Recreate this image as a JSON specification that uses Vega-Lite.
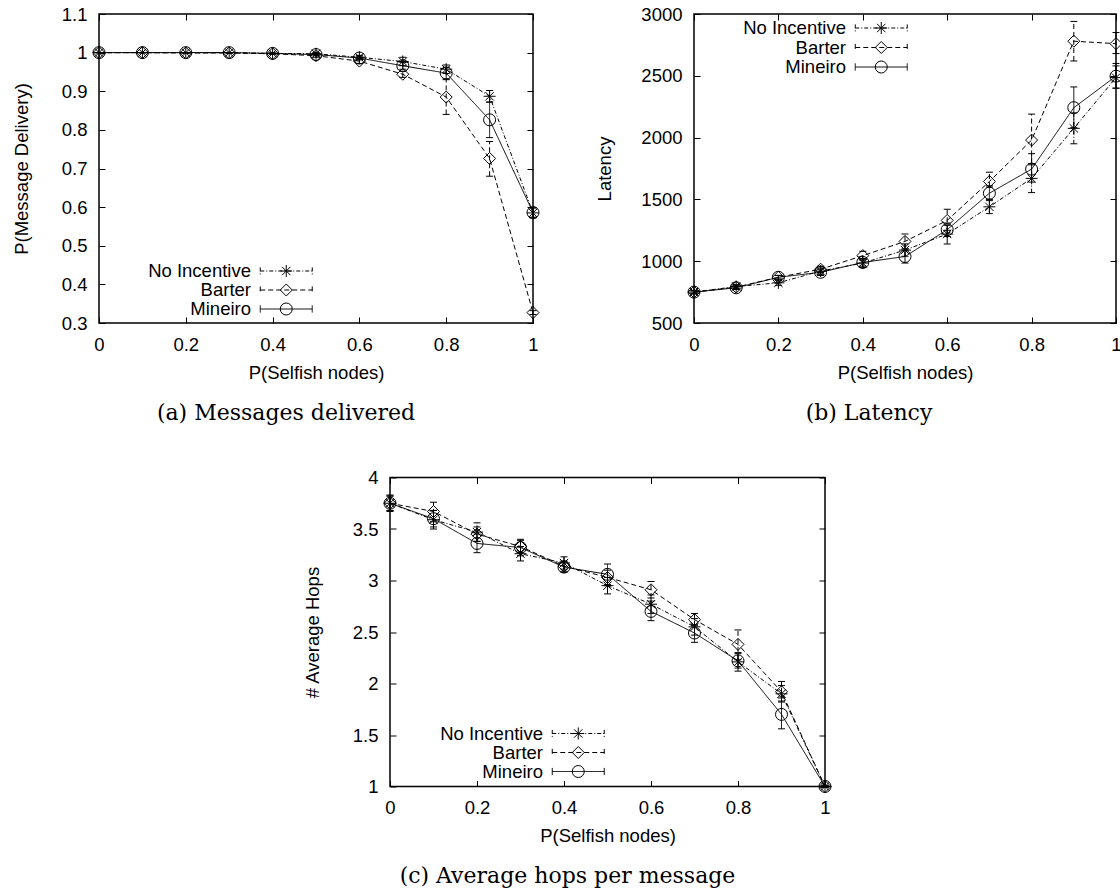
{
  "$schema": "https://vega.github.io/schema/vega-lite/v6.json",
  "background": "white",
  "padding": {"left": 11, "top": 4, "right": 0, "bottom": 0},
  "datasets": {
    "delivery": [
      {"x": 0, "series": "No Incentive", "y": 1.0, "lo": 1.0, "hi": 1.0},
      {"x": 0.1, "series": "No Incentive", "y": 1.0, "lo": 1.0, "hi": 1.0},
      {"x": 0.2, "series": "No Incentive", "y": 1.0, "lo": 1.0, "hi": 1.0},
      {"x": 0.3, "series": "No Incentive", "y": 1.0, "lo": 1.0, "hi": 1.0},
      {"x": 0.4, "series": "No Incentive", "y": 0.998, "lo": 0.997, "hi": 0.999},
      {"x": 0.5, "series": "No Incentive", "y": 0.997, "lo": 0.994, "hi": 1.0},
      {"x": 0.6, "series": "No Incentive", "y": 0.988, "lo": 0.983, "hi": 0.993},
      {"x": 0.7, "series": "No Incentive", "y": 0.977, "lo": 0.966, "hi": 0.988},
      {"x": 0.8, "series": "No Incentive", "y": 0.957, "lo": 0.946, "hi": 0.968},
      {"x": 0.9, "series": "No Incentive", "y": 0.887, "lo": 0.872, "hi": 0.902},
      {"x": 1.0, "series": "No Incentive", "y": 0.585, "lo": 0.572, "hi": 0.598},
      {"x": 0, "series": "Barter", "y": 1.0, "lo": 1.0, "hi": 1.0},
      {"x": 0.1, "series": "Barter", "y": 1.0, "lo": 1.0, "hi": 1.0},
      {"x": 0.2, "series": "Barter", "y": 0.999, "lo": 0.999, "hi": 0.999},
      {"x": 0.3, "series": "Barter", "y": 0.999, "lo": 0.999, "hi": 0.999},
      {"x": 0.4, "series": "Barter", "y": 0.997, "lo": 0.996, "hi": 0.998},
      {"x": 0.5, "series": "Barter", "y": 0.992, "lo": 0.988, "hi": 0.996},
      {"x": 0.6, "series": "Barter", "y": 0.978, "lo": 0.972, "hi": 0.984},
      {"x": 0.7, "series": "Barter", "y": 0.944, "lo": 0.936, "hi": 0.952},
      {"x": 0.8, "series": "Barter", "y": 0.885, "lo": 0.84, "hi": 0.93},
      {"x": 0.9, "series": "Barter", "y": 0.726, "lo": 0.68, "hi": 0.77},
      {"x": 1.0, "series": "Barter", "y": 0.327, "lo": 0.322, "hi": 0.332},
      {"x": 0, "series": "Mineiro", "y": 1.0, "lo": 1.0, "hi": 1.0},
      {"x": 0.1, "series": "Mineiro", "y": 1.0, "lo": 1.0, "hi": 1.0},
      {"x": 0.2, "series": "Mineiro", "y": 1.0, "lo": 1.0, "hi": 1.0},
      {"x": 0.3, "series": "Mineiro", "y": 1.0, "lo": 1.0, "hi": 1.0},
      {"x": 0.4, "series": "Mineiro", "y": 0.998, "lo": 0.997, "hi": 0.999},
      {"x": 0.5, "series": "Mineiro", "y": 0.995, "lo": 0.992, "hi": 0.998},
      {"x": 0.6, "series": "Mineiro", "y": 0.986, "lo": 0.981, "hi": 0.991},
      {"x": 0.7, "series": "Mineiro", "y": 0.966, "lo": 0.957, "hi": 0.975},
      {"x": 0.8, "series": "Mineiro", "y": 0.947, "lo": 0.932, "hi": 0.962},
      {"x": 0.9, "series": "Mineiro", "y": 0.826, "lo": 0.78, "hi": 0.872},
      {"x": 1.0, "series": "Mineiro", "y": 0.586, "lo": 0.574, "hi": 0.598}
    ],
    "latency": [
      {"x": 0, "series": "No Incentive", "y": 750, "lo": 735, "hi": 765},
      {"x": 0.1, "series": "No Incentive", "y": 795, "lo": 780, "hi": 810},
      {"x": 0.2, "series": "No Incentive", "y": 825, "lo": 805, "hi": 845},
      {"x": 0.3, "series": "No Incentive", "y": 920, "lo": 895, "hi": 945},
      {"x": 0.4, "series": "No Incentive", "y": 985, "lo": 950, "hi": 1020},
      {"x": 0.5, "series": "No Incentive", "y": 1090, "lo": 1040, "hi": 1140},
      {"x": 0.6, "series": "No Incentive", "y": 1220, "lo": 1140, "hi": 1290},
      {"x": 0.7, "series": "No Incentive", "y": 1440, "lo": 1385, "hi": 1500},
      {"x": 0.8, "series": "No Incentive", "y": 1670, "lo": 1555, "hi": 1780},
      {"x": 0.9, "series": "No Incentive", "y": 2075, "lo": 1950, "hi": 2200},
      {"x": 1.0, "series": "No Incentive", "y": 2485, "lo": 2400, "hi": 2580},
      {"x": 0, "series": "Barter", "y": 750, "lo": 740, "hi": 760},
      {"x": 0.1, "series": "Barter", "y": 790, "lo": 775, "hi": 805},
      {"x": 0.2, "series": "Barter", "y": 870, "lo": 855, "hi": 885},
      {"x": 0.3, "series": "Barter", "y": 935, "lo": 910, "hi": 960},
      {"x": 0.4, "series": "Barter", "y": 1045, "lo": 1010, "hi": 1080},
      {"x": 0.5, "series": "Barter", "y": 1160, "lo": 1100, "hi": 1220},
      {"x": 0.6, "series": "Barter", "y": 1330, "lo": 1250, "hi": 1420},
      {"x": 0.7, "series": "Barter", "y": 1645, "lo": 1600, "hi": 1720},
      {"x": 0.8, "series": "Barter", "y": 1980, "lo": 1790, "hi": 2190},
      {"x": 0.9, "series": "Barter", "y": 2780, "lo": 2620, "hi": 2940},
      {"x": 1.0, "series": "Barter", "y": 2760, "lo": 2680, "hi": 2850},
      {"x": 0, "series": "Mineiro", "y": 750, "lo": 738, "hi": 762},
      {"x": 0.1, "series": "Mineiro", "y": 785, "lo": 772, "hi": 798},
      {"x": 0.2, "series": "Mineiro", "y": 870, "lo": 855, "hi": 885},
      {"x": 0.3, "series": "Mineiro", "y": 910, "lo": 885, "hi": 935},
      {"x": 0.4, "series": "Mineiro", "y": 990, "lo": 960, "hi": 1020},
      {"x": 0.5, "series": "Mineiro", "y": 1038, "lo": 985, "hi": 1090},
      {"x": 0.6, "series": "Mineiro", "y": 1255, "lo": 1200, "hi": 1310},
      {"x": 0.7, "series": "Mineiro", "y": 1550, "lo": 1490, "hi": 1610},
      {"x": 0.8, "series": "Mineiro", "y": 1745, "lo": 1640, "hi": 1870},
      {"x": 0.9, "series": "Mineiro", "y": 2242, "lo": 2080, "hi": 2410},
      {"x": 1.0, "series": "Mineiro", "y": 2497, "lo": 2400, "hi": 2600}
    ],
    "hops": [
      {"x": 0, "series": "No Incentive", "y": 3.75, "lo": 3.67, "hi": 3.83},
      {"x": 0.1, "series": "No Incentive", "y": 3.59, "lo": 3.5, "hi": 3.68},
      {"x": 0.2, "series": "No Incentive", "y": 3.47, "lo": 3.38, "hi": 3.56},
      {"x": 0.3, "series": "No Incentive", "y": 3.26, "lo": 3.19, "hi": 3.33},
      {"x": 0.4, "series": "No Incentive", "y": 3.17, "lo": 3.11, "hi": 3.23},
      {"x": 0.5, "series": "No Incentive", "y": 2.95, "lo": 2.87, "hi": 3.03},
      {"x": 0.6, "series": "No Incentive", "y": 2.77, "lo": 2.68, "hi": 2.86},
      {"x": 0.7, "series": "No Incentive", "y": 2.55, "lo": 2.47, "hi": 2.63},
      {"x": 0.8, "series": "No Incentive", "y": 2.21, "lo": 2.12, "hi": 2.3},
      {"x": 0.9, "series": "No Incentive", "y": 1.9, "lo": 1.82, "hi": 1.98},
      {"x": 1.0, "series": "No Incentive", "y": 1.0, "lo": 0.99, "hi": 1.01},
      {"x": 0, "series": "Barter", "y": 3.75, "lo": 3.68, "hi": 3.82},
      {"x": 0.1, "series": "Barter", "y": 3.67, "lo": 3.57, "hi": 3.76},
      {"x": 0.2, "series": "Barter", "y": 3.45, "lo": 3.38, "hi": 3.52},
      {"x": 0.3, "series": "Barter", "y": 3.33, "lo": 3.27, "hi": 3.39},
      {"x": 0.4, "series": "Barter", "y": 3.14, "lo": 3.09, "hi": 3.19},
      {"x": 0.5, "series": "Barter", "y": 3.03, "lo": 2.96, "hi": 3.1},
      {"x": 0.6, "series": "Barter", "y": 2.91, "lo": 2.83, "hi": 2.99},
      {"x": 0.7, "series": "Barter", "y": 2.62, "lo": 2.56, "hi": 2.68},
      {"x": 0.8, "series": "Barter", "y": 2.38, "lo": 2.23, "hi": 2.52},
      {"x": 0.9, "series": "Barter", "y": 1.92, "lo": 1.83, "hi": 2.02},
      {"x": 1.0, "series": "Barter", "y": 1.0, "lo": 0.99, "hi": 1.01},
      {"x": 0, "series": "Mineiro", "y": 3.75, "lo": 3.68, "hi": 3.82},
      {"x": 0.1, "series": "Mineiro", "y": 3.6, "lo": 3.52, "hi": 3.68},
      {"x": 0.2, "series": "Mineiro", "y": 3.36, "lo": 3.27, "hi": 3.45},
      {"x": 0.3, "series": "Mineiro", "y": 3.32, "lo": 3.24, "hi": 3.4},
      {"x": 0.4, "series": "Mineiro", "y": 3.13, "lo": 3.08, "hi": 3.18},
      {"x": 0.5, "series": "Mineiro", "y": 3.06, "lo": 2.95, "hi": 3.16},
      {"x": 0.6, "series": "Mineiro", "y": 2.7, "lo": 2.61, "hi": 2.8},
      {"x": 0.7, "series": "Mineiro", "y": 2.49, "lo": 2.4, "hi": 2.57},
      {"x": 0.8, "series": "Mineiro", "y": 2.22, "lo": 2.15, "hi": 2.29},
      {"x": 0.9, "series": "Mineiro", "y": 1.7, "lo": 1.56, "hi": 1.86},
      {"x": 1.0, "series": "Mineiro", "y": 1.0, "lo": 0.99, "hi": 1.01}
    ]
  },
  "spacing": 42.5,
  "resolve": {"scale": {"strokeDash": "independent", "shape": "independent"}, "legend": {"strokeDash": "independent", "shape": "independent"}},
  "vconcat": [
    {
      "bounds": "flush",
      "spacing": 161,
      "resolve": {"scale": {"strokeDash": "independent", "shape": "independent"}, "legend": {"strokeDash": "independent", "shape": "independent"}},
      "hconcat": [
        {
          "width": 434, "height": 309,
          "view": {"stroke": "black", "strokeWidth": 1.5},
          "data": {"name": "delivery"},
          "title": {"text": "(a) Messages delivered", "orient": "bottom", "offset": 21, "dx": -30, "font": "DejaVu Serif", "fontSize": 22, "fontWeight": "normal", "color": "black", "anchor": "middle"},
          "resolve": {"axis": {"x": "independent", "y": "independent"}},
          "layer": [
            {"mark": {"type": "rule", "color": "black", "strokeWidth": 1},
             "encoding": {
               "x": {"field": "x", "type": "quantitative", "scale": {"domain": [0, 1], "nice": false, "zero": false},
                     "axis": {"orient": "bottom", "values": [0, 0.2, 0.4, 0.6, 0.8, 1], "format": "~g", "ticks": false, "labelPadding": 12, "labelFlush": false, "labelOverlap": false, "title": "P(Selfish nodes)", "titleY": 49, "titleBaseline": "middle"}},
               "y": {"field": "lo", "type": "quantitative", "scale": {"domain": [0.3, 1.1], "nice": false, "zero": false},
                     "axis": {"orient": "left", "values": [0.3, 0.4, 0.5, 0.6, 0.7, 0.8, 0.9, 1, 1.1], "format": "~g", "ticks": false, "labelPadding": 12, "labelOverlap": false, "labelFlush": false, "title": "P(Message Delivery)", "titleX": -78, "titleY": 154.5, "titleBaseline": "middle", "titleAlign": "center", "titleAngle": 270}},
               "y2": {"field": "hi"},
               "strokeDash": {"field": "series", "type": "nominal", "scale": {"domain": ["Barter", "Mineiro", "No Incentive"], "range": [[5, 3], [1, 0], [4, 2, 1, 2]]}}
             }},
            {"mark": {"type": "tick", "orient": "horizontal", "size": 7, "thickness": 1, "color": "black", "opacity": 1},
             "encoding": {
               "x": {"field": "x", "type": "quantitative", "axis": {"orient": "bottom", "values": [0, 0.2, 0.4, 0.6, 0.8, 1], "labels": false, "tickSize": -6, "title": null}},
               "y": {"field": "lo", "type": "quantitative", "axis": {"orient": "left", "values": [0.3, 0.4, 0.5, 0.6, 0.7, 0.8, 0.9, 1, 1.1], "labels": false, "tickSize": -6, "title": null}}
             }},
            {"mark": {"type": "tick", "orient": "horizontal", "size": 7, "thickness": 1, "color": "black", "opacity": 1},
             "encoding": {
               "x": {"field": "x", "type": "quantitative", "axis": {"orient": "top", "values": [0, 0.2, 0.4, 0.6, 0.8, 1], "labels": false, "tickSize": -6, "title": null}},
               "y": {"field": "hi", "type": "quantitative", "axis": {"orient": "right", "values": [0.3, 0.4, 0.5, 0.6, 0.7, 0.8, 0.9, 1, 1.1], "labels": false, "tickSize": -6, "title": null}}
             }},
            {"mark": {"type": "line", "color": "black", "strokeWidth": 1},
             "encoding": {
               "x": {"field": "x", "type": "quantitative", "axis": null},
               "y": {"field": "y", "type": "quantitative", "axis": null},
               "strokeDash": {"field": "series", "type": "nominal", "scale": {"domain": ["Barter", "Mineiro", "No Incentive"], "range": [[5, 3], [1, 0], [4, 2, 1, 2]]},
                 "legend": {"orient": "none", "legendX": 178, "legendY": 247.75, "title": null, "values": ["No Incentive", "Barter", "Mineiro"], "symbolType": "M-4.333,0L4.333,0M-4.333,-0.6L-4.333,0.6M4.333,-0.6L4.333,0.6", "symbolSize": 144, "symbolStrokeWidth": 1, "symbolStrokeColor": "black", "symbolFillColor": "transparent", "labelAlign": "right", "labelOffset": -44.5, "labelFont": "Liberation Sans", "labelFontSize": 18.5, "labelColor": "black", "labelLimit": 300, "rowPadding": -0.5, "padding": 0}}
             }},
            {"mark": {"type": "point", "filled": false, "color": "black", "strokeWidth": 1, "size": 144, "opacity": 1},
             "encoding": {
               "x": {"field": "x", "type": "quantitative", "axis": null},
               "y": {"field": "y", "type": "quantitative", "axis": null},
               "shape": {"field": "series", "type": "nominal", "scale": {"domain": ["No Incentive", "Barter", "Mineiro", "zz"], "range": ["M-1,0L1,0M0,-1L0,1M-0.7,-0.7L0.7,0.7M-0.7,0.7L0.7,-0.7", "diamond", "circle", "square"]},
                 "legend": {"orient": "none", "legendX": 178, "legendY": 247.75, "title": null, "values": ["No Incentive", "Barter", "Mineiro"], "symbolSize": 144, "symbolStrokeWidth": 1, "symbolStrokeColor": "black", "symbolFillColor": "transparent", "labelOpacity": 0, "labelFont": "Liberation Sans", "labelFontSize": 18.5, "rowPadding": -0.5, "padding": 0}}
             }}
          ]
        },
        {
          "width": 422, "height": 309,
          "view": {"stroke": "black", "strokeWidth": 1.5},
          "data": {"name": "latency"},
          "title": {"text": "(b) Latency", "orient": "bottom", "offset": 21, "dx": -36, "font": "DejaVu Serif", "fontSize": 22, "fontWeight": "normal", "color": "black", "anchor": "middle"},
          "resolve": {"axis": {"x": "independent", "y": "independent"}},
          "layer": [
            {"mark": {"type": "rule", "color": "black", "strokeWidth": 1},
             "encoding": {
               "x": {"field": "x", "type": "quantitative", "scale": {"domain": [0, 1], "nice": false, "zero": false},
                     "axis": {"orient": "bottom", "values": [0, 0.2, 0.4, 0.6, 0.8, 1], "format": "~g", "ticks": false, "labelPadding": 12, "labelFlush": false, "labelOverlap": false, "title": "P(Selfish nodes)", "titleY": 49, "titleBaseline": "middle"}},
               "y": {"field": "lo", "type": "quantitative", "scale": {"domain": [500, 3000], "nice": false, "zero": false},
                     "axis": {"orient": "left", "values": [500, 1000, 1500, 2000, 2500, 3000], "format": "d", "ticks": false, "labelPadding": 12, "labelOverlap": false, "labelFlush": false, "title": "Latency", "titleX": -90, "titleY": 154.5, "titleBaseline": "middle", "titleAlign": "center", "titleAngle": 270}},
               "y2": {"field": "hi"},
               "strokeDash": {"field": "series", "type": "nominal", "scale": {"domain": ["Barter", "Mineiro", "No Incentive"], "range": [[5, 3], [1, 0], [4, 2, 1, 2]]}}
             }},
            {"mark": {"type": "tick", "orient": "horizontal", "size": 7, "thickness": 1, "color": "black", "opacity": 1},
             "encoding": {
               "x": {"field": "x", "type": "quantitative", "axis": {"orient": "bottom", "values": [0, 0.2, 0.4, 0.6, 0.8, 1], "labels": false, "tickSize": -6, "title": null}},
               "y": {"field": "lo", "type": "quantitative", "axis": {"orient": "left", "values": [500, 1000, 1500, 2000, 2500, 3000], "labels": false, "tickSize": -6, "title": null}}
             }},
            {"mark": {"type": "tick", "orient": "horizontal", "size": 7, "thickness": 1, "color": "black", "opacity": 1},
             "encoding": {
               "x": {"field": "x", "type": "quantitative", "axis": {"orient": "top", "values": [0, 0.2, 0.4, 0.6, 0.8, 1], "labels": false, "tickSize": -6, "title": null}},
               "y": {"field": "hi", "type": "quantitative", "axis": {"orient": "right", "values": [500, 1000, 1500, 2000, 2500, 3000], "labels": false, "tickSize": -6, "title": null}}
             }},
            {"mark": {"type": "line", "color": "black", "strokeWidth": 1},
             "encoding": {
               "x": {"field": "x", "type": "quantitative", "axis": null},
               "y": {"field": "y", "type": "quantitative", "axis": null},
               "strokeDash": {"field": "series", "type": "nominal", "scale": {"domain": ["Barter", "Mineiro", "No Incentive"], "range": [[5, 3], [1, 0], [4, 2, 1, 2]]},
                 "legend": {"orient": "none", "legendX": 178, "legendY": 4.75, "title": null, "values": ["No Incentive", "Barter", "Mineiro"], "symbolType": "M-4.333,0L4.333,0M-4.333,-0.6L-4.333,0.6M4.333,-0.6L4.333,0.6", "symbolSize": 144, "symbolStrokeWidth": 1, "symbolStrokeColor": "black", "symbolFillColor": "transparent", "labelAlign": "right", "labelOffset": -44.5, "labelFont": "Liberation Sans", "labelFontSize": 18.5, "labelColor": "black", "labelLimit": 300, "rowPadding": 0.5, "padding": 0}}
             }},
            {"mark": {"type": "point", "filled": false, "color": "black", "strokeWidth": 1, "size": 144, "opacity": 1},
             "encoding": {
               "x": {"field": "x", "type": "quantitative", "axis": null},
               "y": {"field": "y", "type": "quantitative", "axis": null},
               "shape": {"field": "series", "type": "nominal", "scale": {"domain": ["No Incentive", "Barter", "Mineiro", "zz"], "range": ["M-1,0L1,0M0,-1L0,1M-0.7,-0.7L0.7,0.7M-0.7,0.7L0.7,-0.7", "diamond", "circle", "square"]},
                 "legend": {"orient": "none", "legendX": 178, "legendY": 4.75, "title": null, "values": ["No Incentive", "Barter", "Mineiro"], "symbolSize": 144, "symbolStrokeWidth": 1, "symbolStrokeColor": "black", "symbolFillColor": "transparent", "labelOpacity": 0, "labelFont": "Liberation Sans", "labelFontSize": 18.5, "rowPadding": 0.5, "padding": 0}}
             }}
          ]
        }
      ]
    },
    {
      "bounds": "flush",
      "spacing": 91,
      "resolve": {"scale": {"strokeDash": "independent", "shape": "independent"}, "legend": {"strokeDash": "independent", "shape": "independent"}},
      "hconcat": [
        {
          "width": 200, "height": 20,
          "view": {"stroke": null},
          "data": {"values": [{"k": 1}]},
          "mark": {"type": "point", "opacity": 0}
        },
        {
          "width": 435, "height": 309,
          "view": {"stroke": "black", "strokeWidth": 1.5},
          "data": {"name": "hops"},
          "title": {"text": "(c) Average hops per message", "orient": "bottom", "offset": 21, "dx": -40, "font": "DejaVu Serif", "fontSize": 22, "fontWeight": "normal", "color": "black", "anchor": "middle"},
          "resolve": {"axis": {"x": "independent", "y": "independent"}},
          "layer": [
            {"mark": {"type": "rule", "color": "black", "strokeWidth": 1},
             "encoding": {
               "x": {"field": "x", "type": "quantitative", "scale": {"domain": [0, 1], "nice": false, "zero": false},
                     "axis": {"orient": "bottom", "values": [0, 0.2, 0.4, 0.6, 0.8, 1], "format": "~g", "ticks": false, "labelPadding": 12, "labelFlush": false, "labelOverlap": false, "title": "P(Selfish nodes)", "titleY": 49, "titleBaseline": "middle"}},
               "y": {"field": "lo", "type": "quantitative", "scale": {"domain": [1, 4], "nice": false, "zero": false},
                     "axis": {"orient": "left", "values": [1, 1.5, 2, 2.5, 3, 3.5, 4], "format": "~g", "ticks": false, "labelPadding": 12, "labelOverlap": false, "labelFlush": false, "title": "# Average Hops", "titleX": -78, "titleY": 154.5, "titleBaseline": "middle", "titleAlign": "center", "titleAngle": 270}},
               "y2": {"field": "hi"},
               "strokeDash": {"field": "series", "type": "nominal", "scale": {"domain": ["Barter", "Mineiro", "No Incentive"], "range": [[5, 3], [1, 0], [4, 2, 1, 2]]}}
             }},
            {"mark": {"type": "tick", "orient": "horizontal", "size": 7, "thickness": 1, "color": "black", "opacity": 1},
             "encoding": {
               "x": {"field": "x", "type": "quantitative", "axis": {"orient": "bottom", "values": [0, 0.2, 0.4, 0.6, 0.8, 1], "labels": false, "tickSize": -6, "title": null}},
               "y": {"field": "lo", "type": "quantitative", "axis": {"orient": "left", "values": [1, 1.5, 2, 2.5, 3, 3.5, 4], "labels": false, "tickSize": -6, "title": null}}
             }},
            {"mark": {"type": "tick", "orient": "horizontal", "size": 7, "thickness": 1, "color": "black", "opacity": 1},
             "encoding": {
               "x": {"field": "x", "type": "quantitative", "axis": {"orient": "top", "values": [0, 0.2, 0.4, 0.6, 0.8, 1], "labels": false, "tickSize": -6, "title": null}},
               "y": {"field": "hi", "type": "quantitative", "axis": {"orient": "right", "values": [1, 1.5, 2, 2.5, 3, 3.5, 4], "labels": false, "tickSize": -6, "title": null}}
             }},
            {"mark": {"type": "line", "color": "black", "strokeWidth": 1},
             "encoding": {
               "x": {"field": "x", "type": "quantitative", "axis": null},
               "y": {"field": "y", "type": "quantitative", "axis": null},
               "strokeDash": {"field": "series", "type": "nominal", "scale": {"domain": ["Barter", "Mineiro", "No Incentive"], "range": [[5, 3], [1, 0], [4, 2, 1, 2]]},
                 "legend": {"orient": "none", "legendX": 179, "legendY": 246.75, "title": null, "values": ["No Incentive", "Barter", "Mineiro"], "symbolType": "M-4.333,0L4.333,0M-4.333,-0.6L-4.333,0.6M4.333,-0.6L4.333,0.6", "symbolSize": 144, "symbolStrokeWidth": 1, "symbolStrokeColor": "black", "symbolFillColor": "transparent", "labelAlign": "right", "labelOffset": -44.5, "labelFont": "Liberation Sans", "labelFontSize": 18.5, "labelColor": "black", "labelLimit": 300, "rowPadding": 0, "padding": 0}}
             }},
            {"mark": {"type": "point", "filled": false, "color": "black", "strokeWidth": 1, "size": 144, "opacity": 1},
             "encoding": {
               "x": {"field": "x", "type": "quantitative", "axis": null},
               "y": {"field": "y", "type": "quantitative", "axis": null},
               "shape": {"field": "series", "type": "nominal", "scale": {"domain": ["No Incentive", "Barter", "Mineiro", "zz"], "range": ["M-1,0L1,0M0,-1L0,1M-0.7,-0.7L0.7,0.7M-0.7,0.7L0.7,-0.7", "diamond", "circle", "square"]},
                 "legend": {"orient": "none", "legendX": 179, "legendY": 246.75, "title": null, "values": ["No Incentive", "Barter", "Mineiro"], "symbolSize": 144, "symbolStrokeWidth": 1, "symbolStrokeColor": "black", "symbolFillColor": "transparent", "labelOpacity": 0, "labelFont": "Liberation Sans", "labelFontSize": 18.5, "rowPadding": 0, "padding": 0}}
             }}
          ]
        }
      ]
    }
  ],
  "config": {
    "view": {"stroke": null},
    "font": "Liberation Sans",
    "axis": {"labelFont": "Liberation Sans", "labelFontSize": 18.5, "labelColor": "black", "titleFont": "Liberation Sans", "titleFontSize": 18.5, "titleFontWeight": "normal", "titleColor": "black", "domain": false, "grid": false, "tickColor": "black", "tickWidth": 1}
  }
}
